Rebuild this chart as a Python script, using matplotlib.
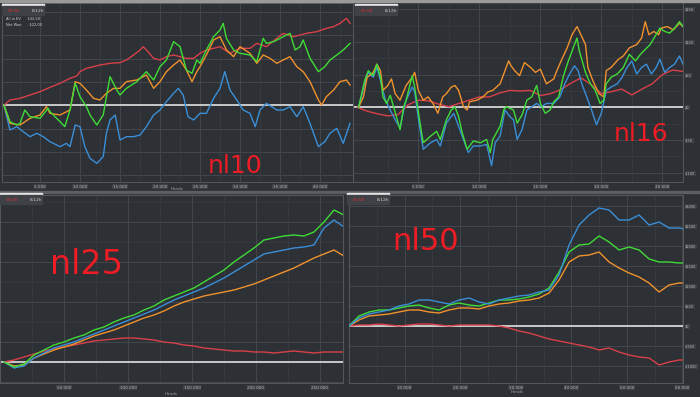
import numpy as np
import matplotlib.pyplot as plt
from matplotlib.patches import Rectangle

# ---- nl10 (top left): hands and $ per series ----
nl10_red_x = [500, 1250, 2500, 3750, 5000, 6250, 7500, 8750, 9600, 10000, 10800, 12500, 13750, 15000, 15800,
              16700, 17500, 17900, 18500, 19200, 20000, 20800, 21700, 22500, 23300, 24200, 25000, 25800, 26700,
              27500, 28750, 30000, 31250, 32100, 33300, 34600, 35400, 36700, 37500, 38300, 39600, 40800, 41700,
              42500, 43300, 43750]
nl10_red = [0, 16, 21, 31, 41, 54, 66, 81, 88, 101, 111, 121, 126, 128, 136, 151, 166, 176, 161, 141, 136, 146,
            151, 146, 141, 141, 156, 166, 171, 176, 156, 171, 171, 186, 176, 201, 216, 206, 211, 216, 221, 231,
            236, 246, 261, 246]
nl10_green_x = [500, 1250, 2100, 2500, 3100, 3750, 5000, 6000, 6250, 7500, 8100, 8750, 9400, 10000, 10800, 11250,
                12100, 12900, 13750, 14600, 15000, 15800, 17100, 18300, 19200, 20000, 20800, 21700, 22500, 23300,
                24000, 24600, 25000, 25800, 26700, 27500, 27900, 28300, 29200, 30000, 31250, 32100, 32900, 33300,
                34200, 35400, 36250, 36900, 37500, 37900, 38750, 39800, 40600, 41250, 42100, 42900, 43750]
nl10_green = [0, -49, -59, -54, -14, -34, -39, -9, -19, -49, -64, -14, 66, 26, -4, -29, -59, -29, 86, 46, 31, 51,
              71, 101, 76, 116, 136, 191, 176, 106, 96, 136, 126, 166, 206, 226, 246, 201, 166, 156, 151, 131, 201,
              186, 191, 206, 216, 166, 176, 196, 141, 101, 116, 136, 151, 166, 186]
nl10_orange_x = [500, 1250, 2500, 3750, 5000, 5800, 6250, 7500, 8750, 9400, 10000, 10800, 11700, 12500, 13300,
                 14200, 15000, 15800, 17100, 18300, 19200, 20000, 20800, 21700, 22500, 23300, 24000, 24600, 25000,
                 25800, 26700, 27500, 28300, 29200, 30000, 31250, 32100, 32900, 33750, 34600, 35400, 36250, 37100,
                 37900, 38750, 39800, 40200, 40800, 41700, 42500, 43300, 43750]
nl10_orange = [0, -54, -59, -39, -29, -4, -24, -29, -14, 71, 66, 46, 21, 16, 36, 51, 51, 71, 76, 91, 51, 71, 101,
               121, 136, 106, 71, 101, 116, 151, 196, 206, 166, 146, 176, 156, 126, 151, 141, 126, 136, 146, 116,
               101, 71, 16, 1, 26, 46, 71, 76, 61]
nl10_blue_x = [500, 1250, 2100, 2900, 3750, 4600, 5400, 6250, 7500, 8300, 8750, 9400, 10000, 10600, 11250, 12100,
               12900, 13300, 13750, 14400, 15000, 15800, 16700, 17500, 18300, 19200, 20000, 20800, 21700, 22300,
               22900, 23500, 24200, 25000, 25800, 26700, 27500, 28100, 28750, 29600, 30400, 31250, 31900, 32500,
               33300, 34600, 35400, 36250, 37100, 37900, 38750, 39800, 40600, 41250, 42100, 42900, 43750]
nl10_blue = [0, -74, -64, -79, -94, -84, -94, -109, -124, -114, -124, -59, -64, -124, -159, -174, -154, -84, -44,
             -29, -104, -94, -94, -89, -64, -29, -14, 11, 36, 51, 31, -34, -44, -24, -24, 21, 51, 101, 46, 16, -14,
             -24, -64, -14, 6, -14, -14, -4, -34, -4, -54, -124, -109, -84, -69, -114, -54]

# ---- nl16 (top right) ----
nl16_orange_x = [100, 500, 800, 1000, 1300, 1600, 1900, 2100, 2500, 2800, 3100, 3500, 4000, 4500, 4700, 5000,
                 5400, 5800, 6200, 6600, 7000, 7300, 7700, 8000, 8300, 8700, 9000, 9200, 9800, 10300, 10700,
                 11100, 11700, 12100, 12400, 12600, 12900, 13300, 13700, 14200, 14600, 15000, 15500, 16100, 16300,
                 16700, 17200, 17600, 18000, 18200, 18700, 18900, 19300, 19800, 20200, 20400, 20800, 21400, 21800,
                 22300, 22900, 23300, 23600, 23900, 24300, 24700, 24900, 25400, 25900, 26400, 26700]
nl16_orange = [0, 16, 46, 48.5, 53.5, 66, 56, 26, 33.5, 43.5, 21, 11, 33.5, 46, 53.5, 26, 11, 16, 6, -9, 16, 21,
               31, 33.5, 26, 1, -4, 8.5, 11, 16, 23.5, 26, 36, 56, 71, 63.5, 56, 48.5, 68.5, 61, 53.5, 58.5, 36,
               43.5, 53.5, 71, 91, 111, 123.5, 116, 96, 61, 41, 21, 16, 56, 61, 73.5, 78.5, 91, 96, 106, 131, 111,
               116, 111, 121, 123.5, 118.5, 128.5, 123.5]
nl16_green_x = [100, 600, 900, 1300, 1600, 1900, 2100, 2400, 2700, 3200, 3500, 3800, 4000, 4500, 4700, 5100, 5400,
                6000, 6500, 6800, 7300, 7700, 8000, 8300, 8600, 9000, 9500, 10100, 10600, 10900, 11100, 11400,
                11700, 12000, 12200, 12800, 13100, 13500, 13900, 14300, 14700, 15000, 15400, 15800, 16100, 16500,
                16900, 17300, 17700, 18000, 18200, 18700, 19100, 19500, 19900, 20200, 20400, 20800, 21300, 21800,
                22300, 22800, 23200, 23600, 24000, 24400, 24800, 25200, 25600, 26000, 26400, 26700]
nl16_green = [0, 41, 56, 48.5, 66, 46, 16, 6, 18.5, -14, -34, 1, 11, 48.5, 31, -19, -54, -44, -36.5, -49, -19, -4,
              1, -14, -39, -64, -51.5, -54, -49, -69, -49, -39, -29, -4, 1, -4, -24, -11.5, 11, 16, 33.5, 6, -9,
              -4, 8.5, 16, 48.5, 71, 91, 106, 86, 53.5, 36, 26, 6, 11, 36, 46, 51, 61, 81, 71, 81, 88.5, 96, 108.5,
              121, 116, 113.5, 121, 131, 123.5]
nl16_blue_x = [100, 600, 900, 1300, 1600, 1900, 2300, 2700, 3100, 3500, 3800, 4000, 4500, 4700, 5100, 5400, 6000,
               6500, 6800, 7300, 7900, 8300, 8700, 9100, 9500, 10100, 10600, 11000, 11300, 11700, 12100, 12500,
               12800, 13100, 13500, 13900, 14300, 14700, 15100, 15500, 16100, 16600, 17000, 17400, 17800, 18100,
               18400, 18800, 19200, 19600, 20000, 20400, 20800, 21300, 21700, 22100, 22500, 22900, 23300, 23700,
               24100, 24500, 24800, 25200, 25600, 26000, 26400, 26700]
nl16_blue = [0, 36, 53.5, 46, 61, 41, 11, -4, -19, -31.5, -4, 11, 31, 23.5, -29, -64, -54, -49, -59, -24, -9, -29,
             -49, -69, -59, -59, -56.5, -89, -54, -44, -4, -14, -19, -49, -34, -4, 1, 6, 1, 6, 6, 16, 36, 51, 63.5,
             56, 36, 16, -4, -26.5, -9, 26, 31, 36, 46, 61, 71, 51, 61, 66, 51, 61, 73.5, 53.5, 61, 66, 78.5, 66]
nl16_red_x = [i * 5000 / 6 for i in range(33)]
nl16_red = [0, -6, -10, -13, -11, 4, 11, 10, 5, 1, 6, 11, 16, 16, 22, 26, 25, 26, 18, 21, 27,
            37, 45, 35, 21, 24, 28, 19, 28, 36, 50, 57, 55]

# ---- nl25 (bottom left) ----
hands_nl25 = [3125 + 7812.5 * i for i in range(35)]
nl25_green = [0, -50, -20, 70, 120, 170, 200, 240, 270, 320, 350, 400, 440, 470, 520, 560, 620, 660,
              700, 740, 800, 860, 920, 1000, 1070, 1140, 1220, 1240, 1260, 1270, 1260, 1300, 1400, 1520, 1470]
nl25_blue = [0, -60, -40, 40, 90, 140, 170, 200, 240, 280, 320, 360, 400, 440, 480, 520, 570, 620,
             660, 700, 740, 790, 840, 900, 960, 1020, 1080, 1100, 1120, 1140, 1150, 1170, 1340, 1420, 1350]
nl25_orange = [0, -40, -30, 40, 80, 120, 150, 180, 220, 260, 290, 320, 360, 400, 440, 470, 510, 560,
               600, 630, 660, 680, 700, 720, 750, 780, 820, 860, 900, 940, 990, 1040, 1080, 1120, 1060]
nl25_red = [0, 20, 50, 80, 110, 130, 150, 170, 190, 210, 220, 230, 240, 240, 230, 220, 200, 190,
            170, 160, 140, 130, 120, 110, 110, 100, 100, 90, 100, 110, 100, 90, 100, 100, 100]

# ---- nl50 (bottom right) ----
hands_nl50 = [1800 * i for i in range(35)]
nl50_blue = [0, 200, 300, 350, 400, 500, 550, 650, 650, 600, 550, 650, 700, 600, 550, 650, 700, 750,
             775, 850, 900, 1275, 2025, 2525, 2775, 2950, 2900, 2650, 2650, 2775, 2525, 2600, 2450, 2450, 2400]
nl50_green = [0, 250, 350, 400, 400, 450, 500, 525, 450, 400, 525, 575, 525, 500, 575, 650, 650, 675,
              725, 800, 950, 1350, 1850, 2025, 2050, 2250, 2100, 1900, 1975, 1900, 1675, 1600, 1600, 1575, 1575]
nl50_orange = [0, 150, 250, 275, 300, 350, 400, 400, 350, 325, 400, 450, 450, 425, 500, 550, 575, 625,
               650, 700, 825, 1150, 1600, 1750, 1775, 1850, 1600, 1450, 1325, 1225, 1075, 850, 1025, 1075, 1075]
nl50_red = [0, 25, 25, 50, 25, 0, 25, 50, 50, 25, 0, 25, 25, 25, 25, 0, -50, -125, -175, -250, -325,
            -375, -425, -475, -525, -600, -550, -650, -725, -775, -800, -975, -900, -850, -850]

BG = '#2d3034'
GRID = '#43464b'
MINOR = '#393c41'
RED = '#d8404a'
GREEN = '#3fdc38'
ORANGE = '#f0922e'
BLUE = '#3a8fd8'
W, H = 700, 397

fig = plt.figure(figsize=(7, 3.97), dpi=100, facecolor=BG)


def px_axes(x0, y0, x1, y1):
    ax = fig.add_axes([x0 / W, 1 - y1 / H, (x1 - x0) / W, (y1 - y0) / H])
    ax.set_facecolor(BG)
    for s in ax.spines.values():
        s.set_color('#55585d')
        s.set_linewidth(0.7)
    return ax


def px_rect(x0, y0, x1, y1, color, z=5):
    fig.patches.append(Rectangle((x0 / W, 1 - y1 / H), (x1 - x0) / W, (y1 - y0) / H,
                                 transform=fig.transFigure, color=color, zorder=z))


def header(x0, y0):
    px_rect(x0, y0, x0 + 42, y0 + 2, '#e6e6e6')
    px_rect(x0, y0 + 2, x0 + 42, y0 + 11, '#3e4146')
    fig.text((x0 + 6) / W, 1 - (y0 + 7) / H, '00:00', color='#e03030', fontsize=3.2, va='center', zorder=6)
    fig.text((x0 + 30) / W, 1 - (y0 + 7) / H, '8:12h', color='#cfcfcf', fontsize=3.2, va='center', zorder=6)


LBL = dict(facecolor='#3c3f44', edgecolor='none', pad=0.4)


def panel(ax, series, xticks, xlabels, xlim, ylim, yticks=None, ylabels=None, minor_x=None, minor_y=None):
    ax.set_xlim(*xlim)
    ax.set_ylim(*ylim)
    if minor_x is not None:
        for v in minor_x:
            ax.axvline(v, color=MINOR, lw=0.5, zorder=0)
    if minor_y is not None:
        for v in minor_y:
            ax.axhline(v, color=MINOR, lw=0.5, zorder=0)
    for v in xticks:
        ax.axvline(v, color=GRID, lw=0.7, zorder=0)
    gy = yticks if yticks is not None else []
    for v in gy:
        ax.axhline(v, color=GRID, lw=0.7, zorder=0)
    ax.axhline(0, color='#d4d4d4', lw=1.3, zorder=2)
    for xs, vals, col in series:
        ax.plot(xs, vals, color=col, lw=1.0, zorder=3)
    ax.set_xticks(xticks)
    ax.set_xticklabels(xlabels)
    ax.tick_params(axis='x', length=0, pad=2, labelsize=3, labelcolor='#b8b8b8')
    for t in ax.get_xticklabels():
        t.set_bbox(LBL)
    if ylabels is not None:
        ax.yaxis.tick_right()
        ax.set_yticks(yticks)
        ax.set_yticklabels(ylabels)
        ax.tick_params(axis='y', length=0, pad=1.5, labelsize=2.5, labelcolor='#b8b8b8')
        for t in ax.get_yticklabels():
            t.set_bbox(LBL)
    else:
        ax.set_yticks([])


# top left: nl10
ax1 = px_axes(2, 3, 353, 182)
panel(ax1,
      [(nl10_red_x, nl10_red, RED), (nl10_blue_x, nl10_blue, BLUE),
       (nl10_orange_x, nl10_orange, ORANGE), (nl10_green_x, nl10_green, GREEN)],
      xticks=list(range(5000, 40001, 5000)),
      xlabels=['5 000', '10 000', '15 000', '20 000', '25 000', '30 000', '35 000', '40 000'],
      xlim=(250, 44125), ylim=(-230, 307),
      yticks=[-210, -140, -70, 70, 140, 210, 280],
      minor_x=list(range(2500, 44000, 5000)))
ax1.text(0.585, 0.05, 'nl10', transform=ax1.transAxes, color='#ee1c24', fontsize=18, zorder=6)
fig.text(177 / W, 1 - 189 / H, 'Hands', color='#a0a0a0', fontsize=3, ha='center', va='center')

# top right: nl16
ax2 = px_axes(353, 2, 683, 182)
panel(ax2,
      [(nl16_red_x, nl16_red, RED), (nl16_blue_x, nl16_blue, BLUE),
       (nl16_orange_x, nl16_orange, ORANGE), (nl16_green_x, nl16_green, GREEN)],
      xticks=[5000, 10000, 15000, 20000, 25000],
      xlabels=['5 000', '10 000', '15 000', '20 000', '25 000'],
      xlim=(-355, 26694), ylim=(-114, 161),
      yticks=[-100, -50, 0, 50, 100, 150],
      ylabels=['-$100', '-$50', '$0', '$50', '$100', '$150'],
      minor_x=[2500, 7500, 12500, 17500, 22500],
      minor_y=[-75, -25, 25, 75, 125])
ax2.text(0.79, 0.23, 'nl16', transform=ax2.transAxes, color='#ee1c24', fontsize=18, zorder=6)

# bottom left: nl25
ax3 = px_axes(0, 195, 343, 383)
panel(ax3,
      [(hands_nl25, nl25_red, RED), (hands_nl25, nl25_orange, ORANGE),
       (hands_nl25, nl25_blue, BLUE), (hands_nl25, nl25_green, GREEN)],
      xticks=[50000, 100000, 150000, 200000, 250000],
      xlabels=['50 000', '100 000', '150 000', '200 000', '250 000'],
      xlim=(0, 268000), ylim=(-210, 1670),
      yticks=[-200, 200, 600, 1000, 1400],
      minor_x=[25000, 75000, 125000, 175000, 225000],
      minor_y=[400, 800, 1200, 1600])
ax3.text(0.145, 0.58, 'nl25', transform=ax3.transAxes, color='#ee1c24', fontsize=24, zorder=6)
fig.text(171 / W, 1 - 394 / H, 'Hands', color='#a0a0a0', fontsize=3, ha='center', va='center')

# bottom right: nl50
ax4 = px_axes(349, 195, 683, 383)
panel(ax4,
      [(hands_nl50, nl50_red, RED), (hands_nl50, nl50_orange, ORANGE),
       (hands_nl50, nl50_green, GREEN), (hands_nl50, nl50_blue, BLUE)],
      xticks=[10000, 20000, 30000, 40000, 50000, 60000],
      xlabels=['10 000', '20 000', '30 000', '40 000', '50 000', '60 000'],
      xlim=(0, 60100), ylim=(-1425, 3275),
      yticks=[-1000, -500, 0, 500, 1000, 1500, 2000, 2500, 3000],
      ylabels=['-$1000', '-$500', '$0', '$500', '$1000', '$1500', '$2000', '$2500', '$3000'],
      minor_x=[5000, 15000, 25000, 35000, 45000, 55000])
ax4.text(0.13, 0.71, 'nl50', transform=ax4.transAxes, color='#ee1c24', fontsize=22, zorder=6)
fig.text(517 / W, 1 - 392 / H, 'Hands', color='#a0a0a0', fontsize=3, ha='center', va='center')

# headers and separators
px_rect(0, 0, 700, 2, '#9a9a9a')
px_rect(0, 191, 700, 193, '#5a5d62')
header(2, 4)
header(355, 4)
header(0, 193)
header(347, 193)
fig.text(6 / W, 1 - 19 / H, 'All in EV      $32,50', color='#d0d0d0', fontsize=2.6, va='center')
fig.text(6 / W, 1 - 24 / H, 'Net Won      -$22,00', color='#d0d0d0', fontsize=2.6, va='center')

fig.savefig('out.png', dpi=100, facecolor=BG)
